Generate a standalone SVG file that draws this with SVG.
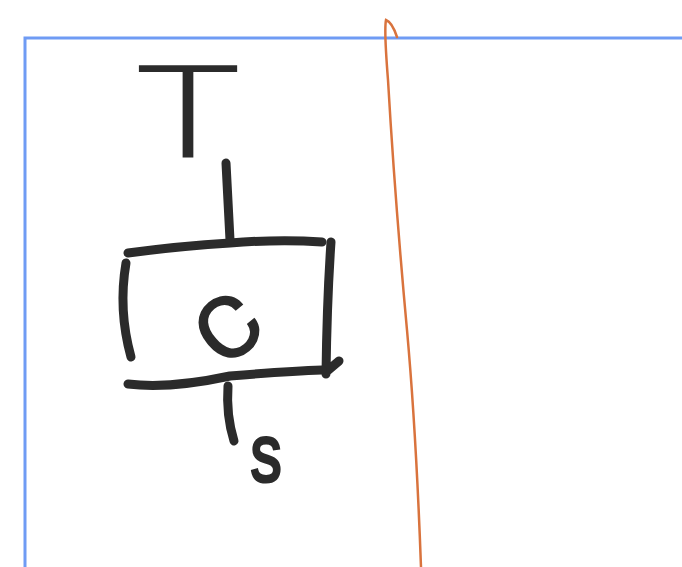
<svg xmlns="http://www.w3.org/2000/svg" width="682" height="567" viewBox="0 0 682 567">
<style>
.ink{fill:none;stroke:#2b2b2b;stroke-width:9;stroke-linecap:round;stroke-linejoin:round}
.lbl{font-family:"Liberation Sans","DejaVu Sans",sans-serif;fill:#2b2b2b;text-anchor:middle}
.thin{font-family:Roboto,"Liberation Sans",sans-serif;font-weight:300}
</style>
<rect width="682" height="567" fill="#ffffff"/>
<g id="frame">
<path d="M25,567 L25,38 L682,38" fill="none" stroke="#6f9bf4" stroke-width="3"/>
</g>
<g id="divider">
<path d="M397,37 Q392,22 386,20 Q384,30 388,80 Q395,200 407,330 Q416,430 421,567" fill="none" stroke="#d9733d" stroke-width="2.5" stroke-linecap="round"/>
</g>
<g id="label-T">
<text class="lbl thin" transform="translate(188,158) scale(1.45,1.05)" font-size="124">T</text>
</g>
<g id="node-box">
<path class="ink" d="M128,253 Q180,246 230,243 Q280,239 322,242"/>
<path class="ink" d="M331,242 Q327,300 326,374 M326,372 L339,361"/>
<path class="ink" d="M126,263 Q118,310 131,357"/>
<path class="ink" d="M128,384 Q170,389 230,376 Q290,371 322,370"/>
<text class="thin lbl" stroke="#2b2b2b" stroke-width="3" transform="translate(228,328) rotate(-40) scale(1.15,1.1) translate(0,26)" font-size="100">c</text>
</g>
<g id="connectors">
<path class="ink" d="M226,163 Q228,200 230,240"/>
<path class="ink" d="M228,386 Q226,415 234,441"/>
</g>
<g id="label-s">
<text class="lbl" transform="translate(266,481) scale(0.78,1.02)" font-size="80" stroke="#2b2b2b" stroke-width="3">s</text>
</g>
</svg>
